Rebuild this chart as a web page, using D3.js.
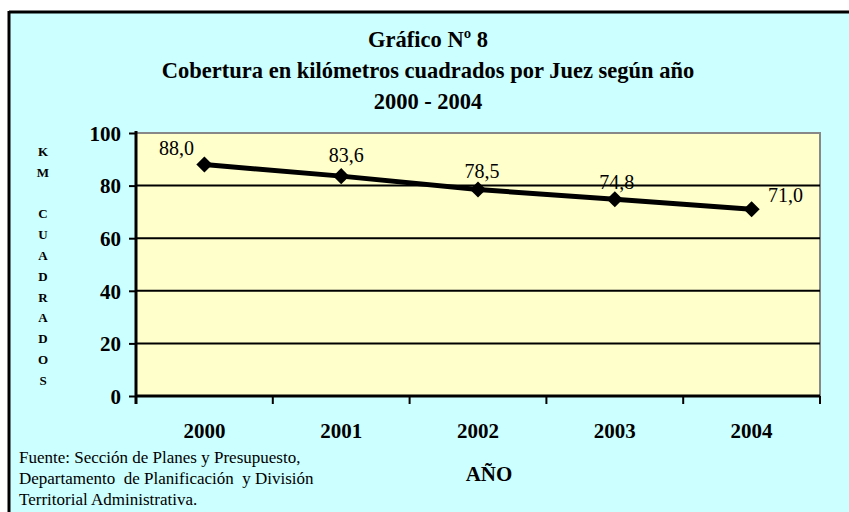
<!DOCTYPE html>
<html><head><meta charset="utf-8">
<script src="https://cdn.jsdelivr.net/npm/d3@7"></script>
<style>body{margin:0;background:#fff}svg{display:block}</style>
</head><body>
<svg id="c" width="849" height="512"></svg>
<script>
const years = ["2000","2001","2002","2003","2004"];
const values = [88.0, 83.6, 78.5, 74.8, 71.0];
const labels = ["88,0","83,6","78,5","74,8","71,0"];
const yTicks = [0,20,40,60,80,100];
const titleLines = ["Gráfico Nº 8","Cobertura en kilómetros cuadrados por Juez según año","2000 - 2004"];
const yTitle = ["K","M","","C","U","A","D","R","A","D","O","S"];
const sourceLines = ["Fuente: Sección de Planes y Presupuesto,","Departamento  de Planificación  y División","Territorial Administrativa."];

const svg = d3.select("#c");
const serif = "Liberation Serif, Tinos, Times New Roman, Times, DejaVu Serif, serif";
svg.append("rect").attr("x",9).attr("y",12).attr("width",849).attr("height",512).attr("fill","#CCFFFF");
svg.append("line").attr("x1",9).attr("x2",849).attr("y1",12).attr("y2",12).attr("stroke","#000").attr("stroke-width",3);
svg.append("line").attr("x1",9).attr("x2",9).attr("y1",11).attr("y2",512).attr("stroke","#000").attr("stroke-width",3);

const L=136, R=820, T=133, B=396;
const x = d3.scaleBand().domain(years).range([L,R]);
const y = d3.scaleLinear().domain([0,100]).range([B,T]);

svg.append("rect").attr("x",L).attr("y",T).attr("width",R-L).attr("height",B-T).attr("fill","#FFFFCC").attr("stroke","#888").attr("stroke-width",2);

svg.append("g").selectAll("line").data(yTicks.filter(d=>d>0&&d<100)).join("line")
  .attr("x1",L).attr("x2",R).attr("y1",d=>y(d)).attr("y2",d=>y(d)).attr("stroke","#000").attr("stroke-width",2);

const ya = svg.append("g").attr("transform",`translate(${L},0)`).call(d3.axisLeft(y).tickValues(yTicks).tickSize(7).tickPadding(8));
ya.selectAll("path").attr("stroke","#000").attr("stroke-width",3).attr("d",`M0,${T-2}V${B+8}`);
ya.selectAll("line").attr("stroke","#000").attr("stroke-width",2);
ya.selectAll("text").attr("font-family",serif).attr("font-weight","bold").attr("font-size",21).attr("fill","#000").attr("dy","0.35em");

const xa = svg.append("g").attr("transform",`translate(0,${B})`).call(d3.axisBottom(x).tickSize(0).tickPadding(27));
xa.select("path").attr("stroke","#000").attr("stroke-width",3).attr("d",`M${L},0H${R}`);
xa.selectAll("text").attr("font-family",serif).attr("font-weight","bold").attr("font-size",21).attr("fill","#000");
const bounds = years.map(d=>x(d)).concat([R]);
svg.append("g").selectAll("line").data(bounds).join("line")
  .attr("x1",d=>d).attr("x2",d=>d).attr("y1",B).attr("y2",B+8).attr("stroke","#000").attr("stroke-width",2);

const cx = d=>x(d)+x.bandwidth()/2;
const line = d3.line().x((d,i)=>cx(years[i])).y(d=>y(d));
svg.append("path").datum(values).attr("d",line).attr("fill","none").attr("stroke","#000").attr("stroke-width",5);
svg.append("g").selectAll("path").data(values).join("path")
  .attr("d",d3.symbol().type(d3.symbolSquare).size(130))
  .attr("transform",(d,i)=>`translate(${cx(years[i])},${y(d)}) rotate(45)`).attr("fill","#000");

const lblOff = [[-28,-10],[5,-14],[4,-12],[2,-10],[34,-7]];
svg.append("g").selectAll("text").data(values).join("text")
  .attr("x",(d,i)=>cx(years[i])+lblOff[i][0]).attr("y",(d,i)=>y(d)+lblOff[i][1])
  .attr("text-anchor","middle").attr("font-family",serif).attr("font-size",20).attr("fill","#000")
  .text((d,i)=>labels[i]);

svg.append("g").selectAll("text").data(titleLines).join("text")
  .attr("x",428).attr("y",(d,i)=>47+i*31).attr("text-anchor","middle")
  .attr("font-family",serif).attr("font-weight","bold").attr("font-size",22.5).attr("fill","#000").text(d=>d);

svg.append("g").selectAll("text").data(yTitle).join("text")
  .attr("x",43).attr("y",(d,i)=>156+i*20.8).attr("text-anchor","middle")
  .attr("font-family",serif).attr("font-weight","bold").attr("font-size",13).attr("fill","#000").text(d=>d);

svg.append("text").attr("x",489).attr("y",481).attr("text-anchor","middle")
  .attr("font-family",serif).attr("font-weight","bold").attr("font-size",21).attr("fill","#000").text("AÑO");

svg.append("g").selectAll("text").data(sourceLines).join("text")
  .attr("x",19).attr("y",(d,i)=>463+i*21)
  .attr("font-family",serif).attr("font-size",17).attr("fill","#000").style("white-space","pre").text(d=>d);
</script>
</body></html>
